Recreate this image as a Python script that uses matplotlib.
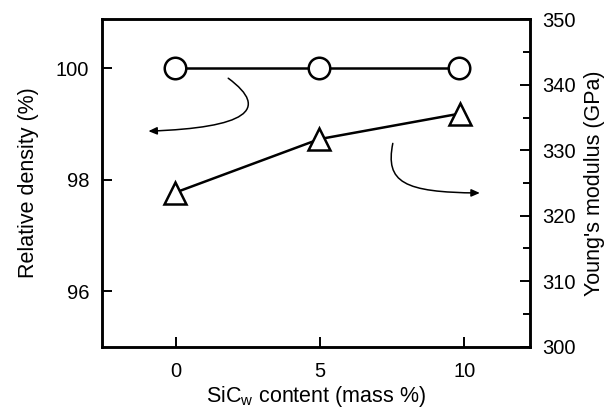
import matplotlib
matplotlib.use("Agg")
import matplotlib.pyplot as plt
from matplotlib.path import Path
from matplotlib.patches import FancyArrowPatch
from matplotlib.ticker import MultipleLocator

plt.rcParams['font.family'] = ['Liberation Sans', 'DejaVu Sans']

# Data
sic_density = [-0.05, 4.95, 9.8]
rel_density = [100.0, 100.0, 100.0]
sic_modulus = [-0.05, 4.97, 9.85]
youngs_modulus = [323.5, 331.7, 335.6]

x_ticks = [0, 5, 10]
left_ticks = [96, 98, 100]
right_ticks = [300, 310, 320, 330, 340, 350]

# Curved arrow paths (left-axis data coordinates)
arrow_left = [(1.81, 99.82), (3.3, 99.25), (2.4, 98.93), (-0.96, 98.87)]
arrow_right = [(7.52, 98.65), (7.25, 97.95), (7.9, 97.77), (10.54, 97.76)]

fig = plt.figure(figsize=(6.13, 4.13), dpi=100)
ax = fig.add_axes([0.1659, 0.1605, 0.8646 - 0.1659, 0.9533 - 0.1605])
ax2 = ax.twinx()

lw = 1.8
ax.plot(sic_density, rel_density, color='black', lw=lw, marker='o', ms=15.5,
        mfc='white', mec='black', mew=1.8, zorder=3)
ax2.plot(sic_modulus, youngs_modulus, color='black', lw=lw, marker='^', ms=16,
         mfc='white', mec='black', mew=1.8, zorder=3)

ax.set_xlim(-2.58, 12.28)
ax.set_ylim(95, 100.878)
ax2.set_ylim(300, 350)

ax.set_xticks(x_ticks)
ax.set_yticks(left_ticks)
ax2.set_yticks(right_ticks)
ax2.yaxis.set_minor_locator(MultipleLocator(5))

fs = 14.5
lfs = 15.5
ax.tick_params(axis='both', which='major', direction='in', length=7.5, width=1.4,
               labelsize=fs, pad=9)
ax.tick_params(axis='x', pad=11)
ax2.tick_params(axis='y', which='major', direction='in', length=7.5, width=1.4,
                labelsize=fs, pad=9)
ax2.tick_params(axis='y', which='minor', direction='in', length=5, width=1.4)

for a in (ax, ax2):
    for s in a.spines.values():
        s.set_linewidth(1.8)

ax.set_ylabel('Relative density (%)', fontsize=lfs, labelpad=12)
ax2.set_ylabel("Young's modulus (GPa)", fontsize=lfs, labelpad=6)
ax.set_xlabel('SiC$_\\mathregular{w}$ content (mass %)', fontsize=lfs, labelpad=2)

codes = [Path.MOVETO, Path.CURVE4, Path.CURVE4, Path.CURVE4]
for pts in (arrow_left, arrow_right):
    p = FancyArrowPatch(path=Path(pts, codes), arrowstyle='-|>,head_length=5,head_width=2.2',
                        color='black', lw=1.1, transform=ax.transData)
    ax.add_patch(p)

fig.savefig('out.png', dpi=100)
